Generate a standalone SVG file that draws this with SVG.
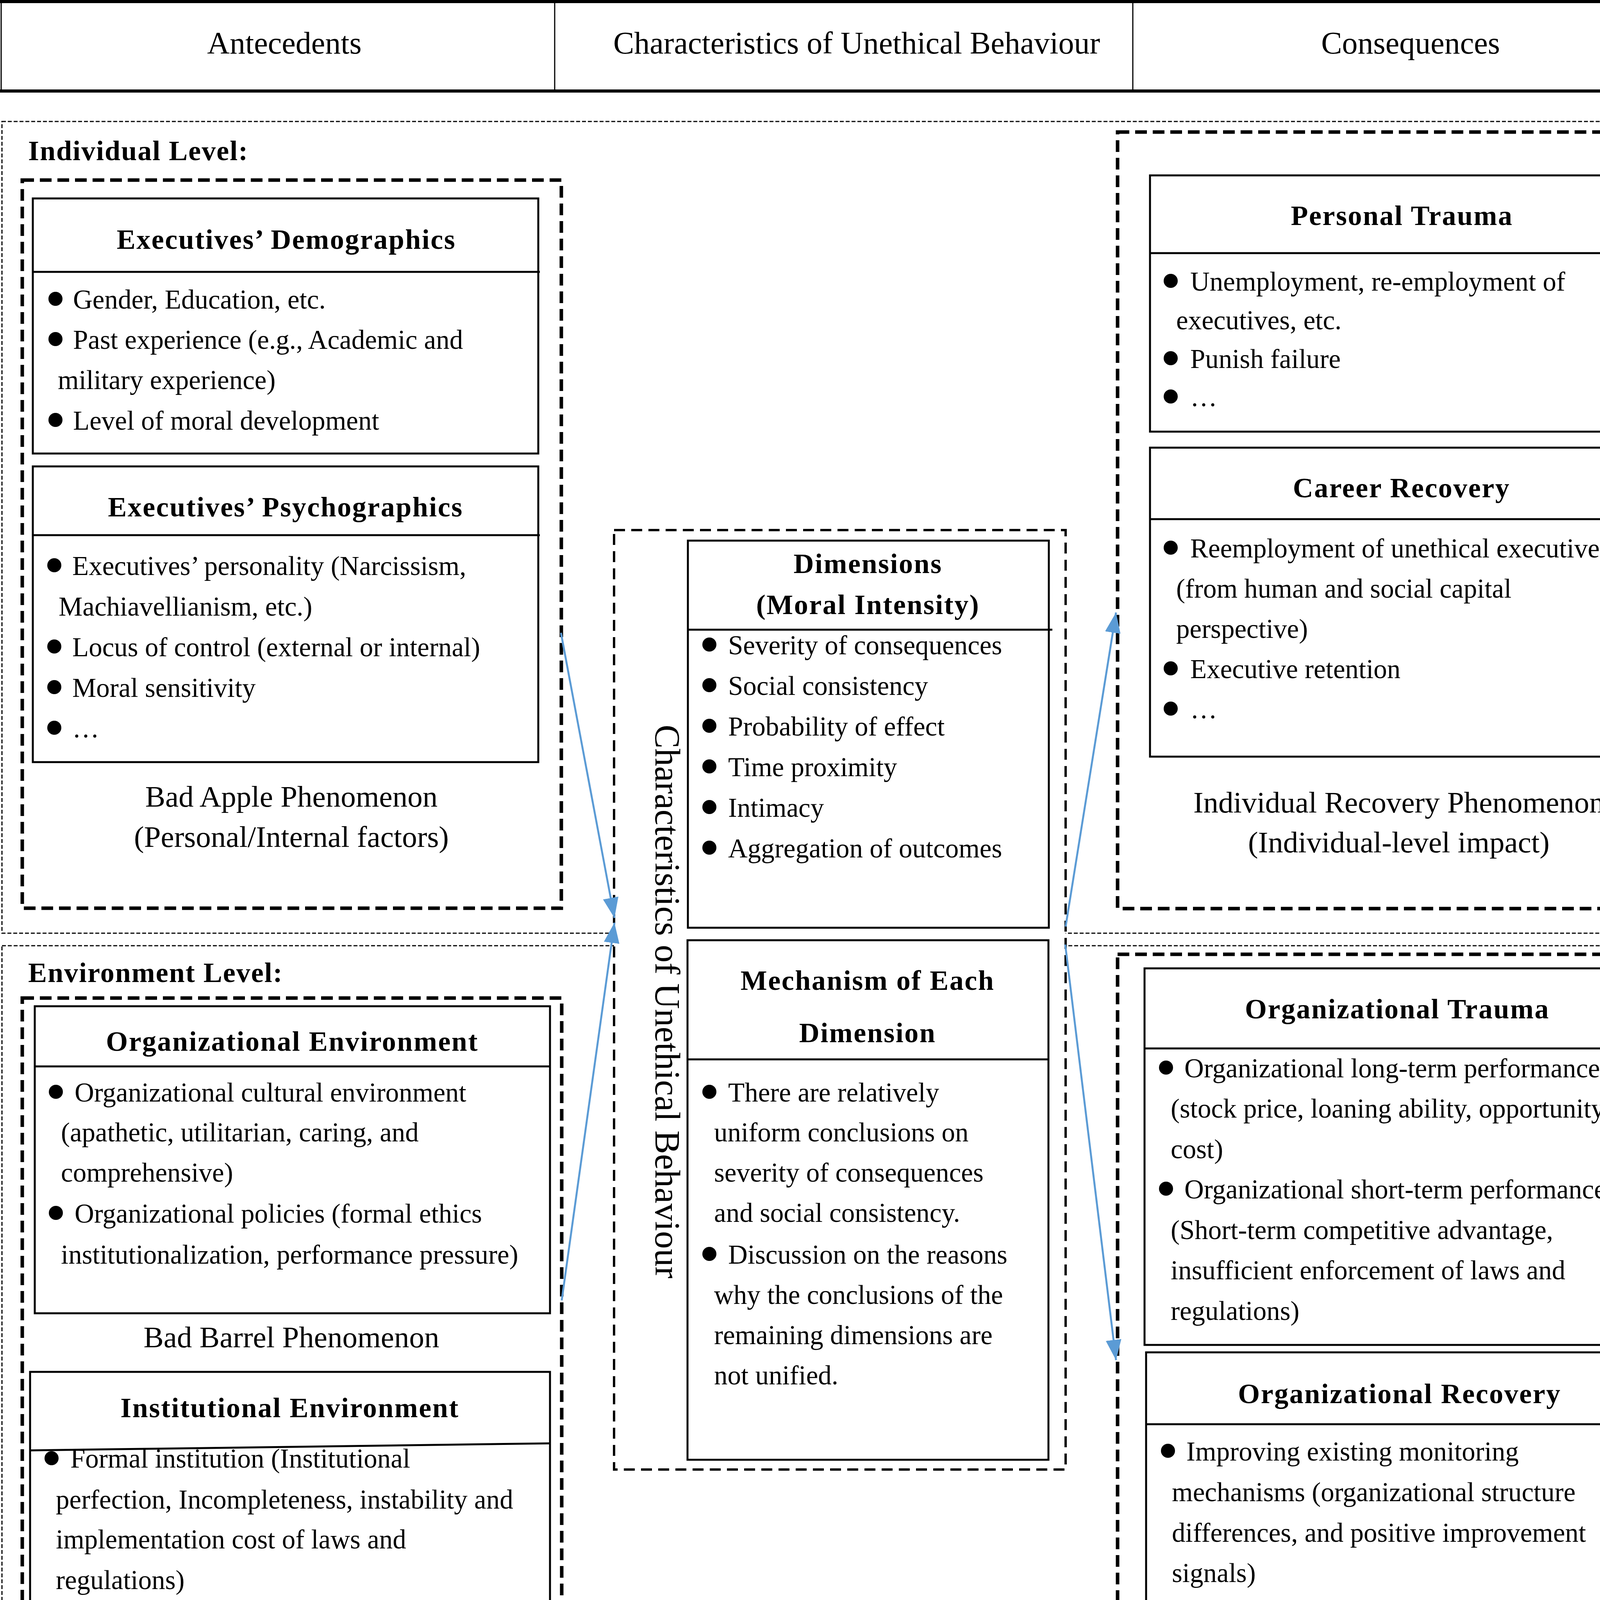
<svg xmlns="http://www.w3.org/2000/svg" width="4325" height="5702" viewBox="0 0 4325 5702">
<defs>
<style>
text{font-family:"Liberation Serif","Times New Roman",serif;fill:#000}
.t{font-size:69px}
.h{font-size:72px;font-weight:bold;letter-spacing:2.5px;text-anchor:middle}
.lv{font-size:72px;font-weight:bold;letter-spacing:2px}
.cap{font-size:77px;text-anchor:middle}
.hd{font-size:80px;text-anchor:middle}
.note{font-size:89px}
.box{fill:#fff;stroke:#000;stroke-width:5}
.dv{stroke:#000;stroke-width:5}
.lvl{fill:none;stroke:#000;stroke-width:3;stroke-dasharray:10 5}
.grp{fill:none;stroke:#000;stroke-width:9;stroke-dasharray:30 15}
.cen{fill:#fff;stroke:#000;stroke-width:6;stroke-dasharray:28 16}
.arr{stroke:#5B9BD5;stroke-width:5;fill:none;marker-end:url(#ah)}
</style>
<marker id="ah" markerUnits="userSpaceOnUse" markerWidth="52" markerHeight="40" refX="52" refY="20" orient="auto">
<path d="M0,0 L52,20 L0,40 Z" fill="#5B9BD5"/>
</marker>
</defs>
<rect width="4325" height="5702" fill="#fff"/>

<g id="header">
<rect x="3" y="4" width="4319" height="229" fill="#fff" stroke="#000" stroke-width="3"/>
<line x1="0" y1="4" x2="4325" y2="4" stroke="#000" stroke-width="8"/>
<line x1="0" y1="233" x2="4325" y2="233" stroke="#000" stroke-width="8"/>
<line x1="1420" y1="4" x2="1420" y2="233" stroke="#000" stroke-width="3"/>
<line x1="2900" y1="4" x2="2900" y2="233" stroke="#000" stroke-width="3"/>
<text class="hd" x="728" y="137">Antecedents</text>
<text class="hd" x="2193" y="137">Characteristics of Unethical Behaviour</text>
<text class="hd" x="3611" y="137">Consequences</text>
</g>

<g id="individual-level">
<rect class="lvl" x="5" y="311" width="4313" height="2078"/>
<text class="lv" x="72" y="410">Individual Level:</text>
</g>
<g id="environment-level">
<rect class="lvl" x="5" y="2421" width="4313" height="2323"/>
<text class="lv" x="72" y="2514">Environment Level:</text>
</g>

<g id="bad-apple">
<rect class="grp" x="57" y="461" width="1380" height="1864"/>
<text class="cap" x="746" y="2065">Bad Apple Phenomenon</text>
<text class="cap" x="746" y="2168">(Personal/Internal factors)</text>
</g>
<g id="environment-antecedents">
<rect class="grp" x="57" y="2555" width="1381" height="2159"/>
<text class="cap" x="746" y="3449">Bad Barrel Phenomenon</text>
<text class="cap" x="747" y="4547">Bad Cellar Phenomenon</text>
<text class="cap" x="747" y="4646">(Environmental/External factors)</text>
</g>
<g id="individual-recovery">
<rect class="grp" x="2861" y="338" width="1435" height="1988"/>
<text class="cap" x="3581" y="2080">Individual Recovery Phenomenon</text>
<text class="cap" x="3581" y="2182">(Individual-level impact)</text>
</g>
<g id="organizational-recovery-phenomenon">
<rect class="grp" x="2861" y="2443" width="1435" height="2229"/>
<text class="cap" x="3577" y="4520">Organizational Recovery Phenomenon</text>
<text class="cap" x="3578" y="4623">(Organizational-level impact)</text>
</g>

<g id="characteristics">
<rect class="cen" x="1572" y="1357" width="1156" height="2405"/>
<text transform="translate(1678,2564) rotate(90)" x="0" y="0" style="font-size:91px;text-anchor:middle">Characteristics of Unethical Behaviour</text>
</g>

<g id="demographics">
<rect class="box" x="84" y="508" width="1294" height="653"/>
<line class="dv" x1="84" y1="696" x2="1382" y2="696"/>
<text class="h" x="733" y="637">Executives’ Demographics</text>
<circle cx="142" cy="765" r="18"/><text class="t" x="187" y="790">Gender, Education, etc.</text>
<circle cx="142" cy="868" r="18"/><text class="t" x="187" y="893">Past experience (e.g., Academic and</text>
<text class="t" x="148" y="996">military experience)</text>
<circle cx="142" cy="1075" r="18"/><text class="t" x="187" y="1100">Level of moral development</text>
</g>

<g id="psychographics">
<rect class="box" x="84" y="1194" width="1294" height="757"/>
<line class="dv" x1="84" y1="1370" x2="1382" y2="1370"/>
<text class="h" x="731" y="1322">Executives’ Psychographics</text>
<circle cx="139" cy="1447" r="18"/><text class="t" x="185" y="1472">Executives’ personality (Narcissism,</text>
<text class="t" x="150" y="1576">Machiavellianism, etc.)</text>
<circle cx="139" cy="1655" r="18"/><text class="t" x="185" y="1680">Locus of control (external or internal)</text>
<circle cx="139" cy="1759" r="18"/><text class="t" x="185" y="1784">Moral sensitivity</text>
<circle cx="139" cy="1863" r="18"/><text class="t" x="185" y="1888">…</text>
</g>

<g id="dimensions">
<rect class="box" x="1761" y="1384" width="924" height="991"/>
<line class="dv" x1="1761" y1="1612" x2="2694" y2="1612"/>
<text class="h" x="2222" y="1467">Dimensions</text>
<text class="h" x="2222" y="1572">(Moral Intensity)</text>
<circle cx="1816" cy="1650" r="18"/><text class="t" x="1864" y="1675">Severity of consequences</text>
<circle cx="1816" cy="1754" r="18"/><text class="t" x="1864" y="1779">Social consistency</text>
<circle cx="1816" cy="1858" r="18"/><text class="t" x="1864" y="1883">Probability of effect</text>
<circle cx="1816" cy="1962" r="18"/><text class="t" x="1864" y="1987">Time proximity</text>
<circle cx="1816" cy="2066" r="18"/><text class="t" x="1864" y="2091">Intimacy</text>
<circle cx="1816" cy="2170" r="18"/><text class="t" x="1864" y="2195">Aggregation of outcomes</text>
</g>

<g id="mechanism">
<rect class="box" x="1760" y="2407" width="924" height="1330"/>
<line class="dv" x1="1760" y1="2712" x2="2684" y2="2712"/>
<text class="h" x="2221" y="2534">Mechanism of Each</text>
<text class="h" x="2221" y="2668">Dimension</text>
<circle cx="1816" cy="2795" r="18"/><text class="t" x="1864" y="2820">There are relatively</text>
<text class="t" x="1828" y="2922">uniform conclusions on</text>
<text class="t" x="1828" y="3025">severity of consequences</text>
<text class="t" x="1828" y="3128">and social consistency.</text>
<circle cx="1816" cy="3210" r="18"/><text class="t" x="1864" y="3235">Discussion on the reasons</text>
<text class="t" x="1828" y="3338">why the conclusions of the</text>
<text class="t" x="1828" y="3441">remaining dimensions are</text>
<text class="t" x="1828" y="3544">not unified.</text>
</g>

<g id="personal-trauma">
<rect class="box" x="2944" y="449" width="1292" height="656"/>
<line class="dv" x1="2944" y1="648" x2="4236" y2="648"/>
<text class="h" x="3589" y="576">Personal Trauma</text>
<circle cx="2997" cy="719" r="18"/><text class="t" x="3047" y="744">Unemployment, re-employment of</text>
<text class="t" x="3011" y="843">executives, etc.</text>
<circle cx="2997" cy="917" r="18"/><text class="t" x="3047" y="942">Punish failure</text>
<circle cx="2997" cy="1015" r="18"/><text class="t" x="3047" y="1040">…</text>
</g>

<g id="career-recovery">
<rect class="box" x="2944" y="1146" width="1292" height="791"/>
<line class="dv" x1="2944" y1="1329" x2="4236" y2="1329"/>
<text class="h" x="3588" y="1273">Career Recovery</text>
<circle cx="2997" cy="1402" r="18"/><text class="t" x="3047" y="1427">Reemployment of unethical executives</text>
<text class="t" x="3011" y="1530">(from human and social capital</text>
<text class="t" x="3011" y="1633">perspective)</text>
<circle cx="2997" cy="1711" r="18"/><text class="t" x="3047" y="1736">Executive retention</text>
<circle cx="2997" cy="1814" r="18"/><text class="t" x="3047" y="1839">…</text>
</g>

<g id="organizational-environment">
<rect class="box" x="89" y="2576" width="1319" height="786"/>
<line class="dv" x1="89" y1="2730" x2="1408" y2="2730"/>
<text class="h" x="748" y="2690">Organizational Environment</text>
<circle cx="143" cy="2795" r="18"/><text class="t" x="191" y="2820">Organizational cultural environment</text>
<text class="t" x="156" y="2922">(apathetic, utilitarian, caring, and</text>
<text class="t" x="156" y="3025">comprehensive)</text>
<circle cx="143" cy="3105" r="18"/><text class="t" x="191" y="3130">Organizational policies (formal ethics</text>
<text class="t" x="156" y="3235">institutionalization, performance pressure)</text>
</g>

<g id="institutional-environment">
<rect class="box" x="77" y="3512" width="1331" height="957"/>
<line class="dv" x1="77" y1="3713" x2="1406" y2="3695"/>
<text class="h" x="742" y="3628">Institutional Environment</text>
<circle cx="132" cy="3733" r="18"/><text class="t" x="180" y="3757">Formal institution (Institutional</text>
<text class="t" x="143" y="3862">perfection, Incompleteness, instability and</text>
<text class="t" x="143" y="3964">implementation cost of laws and</text>
<text class="t" x="143" y="4068">regulations)</text>
<circle cx="132" cy="4147" r="18"/><text class="t" x="180" y="4172">Informal institution (Institutional</text>
<text class="t" x="143" y="4277">orientation, Goal, time pressure and</text>
<text class="t" x="143" y="4380">development orientation)</text>
</g>

<g id="organizational-trauma">
<rect class="box" x="2930" y="2479" width="1293" height="964"/>
<line class="dv" x1="2930" y1="2684" x2="4223" y2="2684"/>
<text class="h" x="3577" y="2607">Organizational Trauma</text>
<circle cx="2985" cy="2733" r="18"/><text class="t" x="3032" y="2758">Organizational long-term performance</text>
<text class="t" x="2997" y="2861">(stock price, loaning ability, opportunity</text>
<text class="t" x="2997" y="2965">cost)</text>
<circle cx="2985" cy="3043" r="18"/><text class="t" x="3032" y="3068">Organizational short-term performance</text>
<text class="t" x="2997" y="3172">(Short-term competitive advantage,</text>
<text class="t" x="2997" y="3275">insufficient enforcement of laws and</text>
<text class="t" x="2997" y="3379">regulations)</text>
</g>

<g id="organizational-recovery">
<rect class="box" x="2934" y="3462" width="1300" height="949"/>
<line class="dv" x1="2934" y1="3646" x2="4228" y2="3646"/>
<text class="h" x="3583" y="3592">Organizational Recovery</text>
<circle cx="2990" cy="3714" r="18"/><text class="t" x="3037" y="3739">Improving existing monitoring</text>
<text class="t" x="3000" y="3843">mechanisms (organizational structure</text>
<text class="t" x="3000" y="3947">differences, and positive improvement</text>
<text class="t" x="3000" y="4050">signals)</text>
<circle cx="2990" cy="4130" r="18"/><text class="t" x="3037" y="4155">Implementation of punishment</text>
<text class="t" x="3000" y="4259">mechanism (executive turnover, and</text>
<text class="t" x="3000" y="4362">effectiveness of punishment mechanism)</text>
</g>

<g id="connectors">
<line class="arr" x1="1436" y1="1620" x2="1573" y2="2350"/>
<line class="arr" x1="1438" y1="3329" x2="1573" y2="2362"/>
<line class="arr" x1="2728" y1="2372" x2="2857" y2="1568"/>
<line class="arr" x1="2727" y1="2418" x2="2857" y2="3482"/>
</g>

<g id="note">
<text class="note" x="303" y="4860" word-spacing="1.6">Note: Bad Apple, Bad Barrel and Bad Cellar Phenomenon mainly focus on the personal factors</text>
<text class="note" x="124" y="4993" word-spacing="26">and environmental factors that trigger the occurrence of executives' unethical behaviour. The</text>
<text class="note" x="124" y="5126" word-spacing="29.5">Characteristics of Unethical Behaviour perspective focuses on the inherent properties of the</text>
<text class="note" x="124" y="5259" word-spacing="23.5">behaviour itself and the mechanisms that cause unethical behaviour. The Individual Recovery</text>
<text class="note" x="124" y="5392" word-spacing="24.6">Phenomenon focuses on the range of impacts on the executives and their organizations after</text>
<text class="note" x="124" y="5525" word-spacing="7.5">unethical behaviours and the Organizational Recovery perspective focuses on how an executive or</text>
<text class="note" x="124" y="5658">organization recovers from such impacts.</text>
</g>
</svg>
